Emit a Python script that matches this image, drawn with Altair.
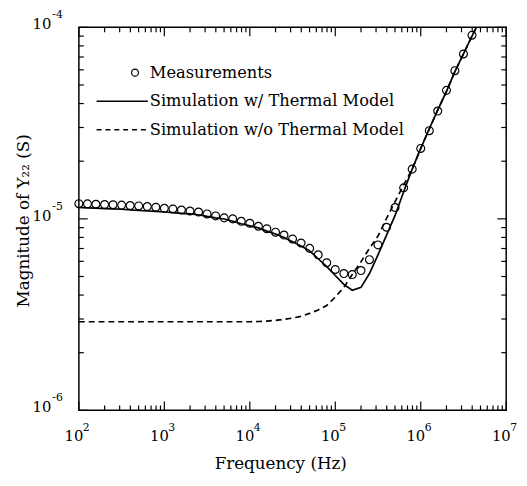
import altair as alt
import pandas as pd

# ---------------- data ----------------
meas_freq = [100, 126, 158, 200, 251, 316, 398, 501, 631, 794,
             1000, 1259, 1585, 1995, 2512, 3162, 3981, 5012, 6310, 7943,
             1.0e4, 1.26e4, 1.58e4, 2.0e4, 2.51e4, 3.16e4, 3.98e4, 5.01e4, 6.31e4, 7.94e4,
             1.0e5, 1.26e5, 1.58e5, 2.0e5, 2.51e5, 3.16e5, 3.98e5, 5.01e5, 6.31e5, 7.94e5,
             1.0e6, 1.26e6, 1.58e6, 2.0e6, 2.51e6, 3.16e6, 3.98e6]
meas_y22 = [1.200e-5, 1.198e-5, 1.192e-5, 1.188e-5, 1.185e-5, 1.180e-5, 1.174e-5, 1.168e-5, 1.160e-5, 1.150e-5,
            1.135e-5, 1.126e-5, 1.112e-5, 1.099e-5, 1.086e-5, 1.061e-5, 1.036e-5, 1.012e-5, 1.000e-5, 9.71e-6,
            9.48e-6, 9.15e-6, 8.88e-6, 8.52e-6, 8.23e-6, 7.85e-6, 7.48e-6, 7.01e-6, 6.49e-6, 5.90e-6,
            5.44e-6, 5.18e-6, 5.12e-6, 5.37e-6, 6.12e-6, 7.31e-6, 9.04e-6, 1.146e-5, 1.452e-5, 1.818e-5,
            2.332e-5, 2.886e-5, 3.656e-5, 4.688e-5, 5.94e-5, 7.26e-5, 9.10e-5]

sim_freq = meas_freq + [4.47e6]
sim_with_thermal = [1.146e-5, 1.142e-5, 1.138e-5, 1.132e-5, 1.128e-5, 1.122e-5, 1.114e-5, 1.106e-5, 1.099e-5, 1.093e-5,
                    1.086e-5, 1.077e-5, 1.069e-5, 1.062e-5, 1.051e-5, 1.030e-5, 1.012e-5, 9.98e-6, 9.71e-6, 9.43e-6,
                    9.19e-6, 8.97e-6, 8.63e-6, 8.33e-6, 7.99e-6, 7.59e-6, 7.22e-6, 6.81e-6, 6.19e-6, 5.63e-6,
                    5.06e-6, 4.55e-6, 4.24e-6, 4.39e-6, 5.18e-6, 6.49e-6, 8.23e-6, 1.042e-5, 1.385e-5, 1.818e-5,
                    2.332e-5, 2.954e-5, 3.700e-5, 4.633e-5, 5.870e-5, 7.264e-5, 8.99e-5, 1.0e-4]
sim_without_thermal = [2.902e-6] * 21 + [
                    2.912e-6, 2.926e-6, 2.951e-6, 2.989e-6, 3.032e-6, 3.097e-6, 3.209e-6, 3.345e-6, 3.528e-6,
                    3.902e-6, 4.391e-6, 5.123e-6, 5.976e-6, 7.012e-6, 8.131e-6, 1.006e-5, 1.230e-5, 1.504e-5, 1.818e-5,
                    2.332e-5, 2.954e-5, 3.700e-5, 4.633e-5, 5.870e-5, 7.264e-5, 8.99e-5, 1.0e-4]

x_major = [1e2, 1e3, 1e4, 1e5, 1e6, 1e7]
x_exponents = ["2", "3", "4", "5", "6", "7"]
y_major = [1e-6, 1e-5, 1e-4]
y_exponents = ["-6", "-5", "-4"]
x_minor = [m * 10.0 ** d for d in range(2, 7) for m in range(2, 10)]
y_minor = [m * 10.0 ** d for d in range(-6, -4) for m in range(2, 10)]

legend_labels = ["Measurements", "Simulation w/ Thermal Model", "Simulation w/o Thermal Model"]
x_title = "Frequency (Hz)"
y_title = "Magnitude of Y₂₂ (S)"

# ---------------- layout ----------------
W, H = 434, 389
FONT = "DejaVu Serif"
MAJ, MIN = 9, 5
X_DEC = 5   # decades on x
Y_DEC = 2   # decades on y
xs = alt.Scale(type="log", domain=[1e2, 1e7], nice=False)
ys = alt.Scale(type="log", domain=[1e-6, 1e-4], nice=False)
XE = alt.X("f:Q", scale=xs, axis=None)


def Yf(fld):
    return alt.Y(f"{fld}:Q", scale=ys, axis=None)


meas_df = pd.DataFrame({"f": meas_freq, "Y": meas_y22})
sim_df = pd.DataFrame({"f": sim_freq, "Yw": sim_with_thermal, "Yo": sim_without_thermal})
xlab_df = pd.DataFrame({"f": x_major, "e": x_exponents})
ylab_df = pd.DataFrame({"Y": y_major, "e": y_exponents})
xtick_df = pd.DataFrame({"f": x_major + x_minor, "len": [MAJ] * len(x_major) + [MIN] * len(x_minor)})
ytick_df = pd.DataFrame({"Y": y_major + y_minor, "len": [MAJ] * len(y_major) + [MIN] * len(y_minor)})

meas = alt.Chart(meas_df).mark_point(shape="circle", filled=False, size=64, color="black",
                                     strokeWidth=1.2, opacity=1).encode(x=XE, y=Yf("Y"))
with_line = alt.Chart(sim_df).mark_line(color="black", strokeWidth=1.7).encode(x=XE, y=Yf("Yw"))
without_line = alt.Chart(sim_df).mark_line(color="black", strokeWidth=1.7,
                                           strokeDash=[6, 4]).encode(x=XE, y=Yf("Yo"))

# inward ticks on all four sides: short two-point line segments through the chart's scales
ypx = f"pow(10, {Y_DEC} * datum.len / {H})"
xpx = f"pow(10, {X_DEC} * datum.len / {W})"


def xtick_layer(edge, inner_expr):
    return alt.Chart(xtick_df).transform_calculate(
        a=str(edge), b=inner_expr
    ).transform_fold(["a", "b"], as_=["end", "Y"]).mark_line(
        color="black", strokeWidth=1.2).encode(x=XE, y=Yf("Y"), detail="f:N")


def ytick_layer(edge, inner_expr):
    return alt.Chart(ytick_df).transform_calculate(
        a=str(edge), b=inner_expr
    ).transform_fold(["a", "b"], as_=["end", "f"]).mark_line(
        color="black", strokeWidth=1.2).encode(x=XE, y=Yf("Y"), detail="Y:N")


tick_bottom = xtick_layer(1e-6, f"1e-6 * {ypx}")
tick_top = xtick_layer(1e-4, f"1e-4 / {ypx}")
tick_left = ytick_layer(1e2, f"100 * {xpx}")
tick_right = ytick_layer(1e7, f"1e7 / {xpx}")

# tick labels with superscripts
xl_base = alt.Chart(xlab_df).mark_text(font=FONT, fontSize=15, color="black", dx=-5,
                                       align="center", baseline="middle").encode(
    x=XE, y=alt.value(H + 26), text=alt.value("10"))
xl_exp = alt.Chart(xlab_df).mark_text(font=FONT, fontSize=11, color="black", dx=4,
                                      align="left", baseline="middle").encode(
    x=XE, y=alt.value(H + 18), text="e:N")
yl_base = alt.Chart(ylab_df).mark_text(font=FONT, fontSize=15, color="black", dy=-3,
                                       align="right", baseline="middle").encode(
    y=Yf("Y"), x=alt.value(-28), text=alt.value("10"))
yl_exp = alt.Chart(ylab_df).mark_text(font=FONT, fontSize=11, color="black",
                                      align="left", baseline="middle", dy=-12).encode(
    y=Yf("Y"), x=alt.value(-27), text="e:N")

# axis titles
title_df = pd.DataFrame({"x_title": [x_title], "y_title": [y_title]})
xt = alt.Chart(title_df).mark_text(font=FONT, fontSize=17, color="black", align="center",
                                   baseline="middle").encode(
    x=alt.value(W / 2 - 12), y=alt.value(H + 55), text="x_title:N")
yt = alt.Chart(title_df).mark_text(font=FONT, fontSize=17, color="black", align="center",
                                   baseline="middle", angle=270).encode(
    x=alt.value(-56), y=alt.value(H / 2 + 2), text="y_title:N")

# legend
leg_df = pd.DataFrame({"label": legend_labels})
leg_y = [46, 75, 104]
leg_circle = alt.Chart(leg_df.iloc[[0]]).mark_point(shape="circle", filled=False, size=50,
                                                    color="black", strokeWidth=1.2, opacity=1).encode(
    x=alt.value(57), y=alt.value(leg_y[0]))
leg_solid = alt.Chart(leg_df.iloc[[1]]).mark_rule(color="black", strokeWidth=1.5).encode(
    x=alt.value(18), x2=alt.value(70), y=alt.value(leg_y[1]))
leg_dash = alt.Chart(leg_df.iloc[[2]]).mark_rule(color="black", strokeWidth=1.5, strokeDash=[5, 4]).encode(
    x=alt.value(18), x2=alt.value(70), y=alt.value(leg_y[2]))
leg_texts = [alt.Chart(leg_df.iloc[[i]]).mark_text(font=FONT, fontSize=16.5, color="black",
                                                   align="left", baseline="middle").encode(
    x=alt.value(72), y=alt.value(leg_y[i]), text="label:N") for i in range(3)]

chart = alt.layer(
    meas, with_line, without_line,
    tick_bottom, tick_top, tick_left, tick_right,
    xl_base, xl_exp, yl_base, yl_exp, xt, yt,
    leg_circle, leg_solid, leg_dash, *leg_texts
).properties(
    width=W, height=H,
    autosize=alt.AutoSizeParams(type="none"),
    padding={"left": 72, "top": 16, "right": 13, "bottom": 62},
    background="white",
).configure_view(stroke="black", strokeWidth=1.5)

chart.save("out.html", embed_options={"renderer": "svg", "actions": False})
